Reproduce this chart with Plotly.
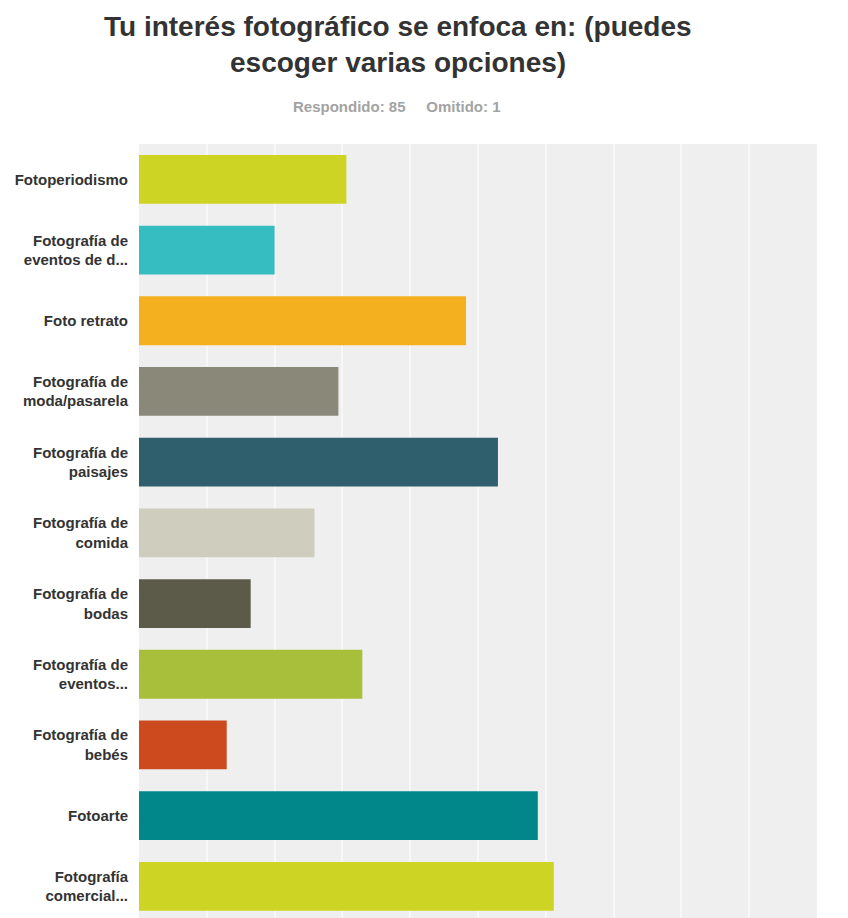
import plotly.graph_objects as go

categories = [
    "Fotoperiodismo",
    "Fotografía de<br>eventos de d...",
    "Foto retrato",
    "Fotografía de<br>moda/pasarela",
    "Fotografía de<br>paisajes",
    "Fotografía de<br>comida",
    "Fotografía de<br>bodas",
    "Fotografía de<br>eventos...",
    "Fotografía de<br>bebés",
    "Fotoarte",
    "Fotografía<br>comercial...",
]
percentages = [30.59, 20.00, 48.24, 29.41, 52.94, 25.88, 16.47, 32.94, 12.94, 58.82, 61.18]
bar_colors = [
    "#cdd423", "#36bdc2", "#f5b020", "#8a8878", "#2f5e6d", "#cfcdbd",
    "#5c5b49", "#a8bf3b", "#cc4a1d", "#01878a", "#cdd423",
]
title_lines = ["Tu interés fotográfico se enfoca en: (puedes", "escoger varias opciones)"]
subtitle_text = "Respondido: 85\u00a0\u00a0\u00a0\u00a0\u00a0Omitido: 1"

W, H = 848, 918
ML, MR, MT, MB = 139, 31, 144, 0
plot_h = H - MT - MB
plot_w = W - ML - MR

fig = go.Figure(
    go.Bar(
        x=percentages,
        y=categories,
        orientation="h",
        marker=dict(color=bar_colors, line=dict(width=0)),
        width=0.69,
        hoverinfo="x+y",
    )
)

band = 70.7
n_bands = plot_h / band

def py(px_from_top):
    return (H - MB - px_from_top) / plot_h

def px_x(px):
    return (px - ML) / plot_w

annotations = []
# title lines, baselines ~37 and ~72 px
for line, ymid in zip(title_lines, [27, 62]):
    annotations.append(dict(
        text=line, xref="paper", yref="paper", x=px_x(398), y=py(ymid),
        xanchor="center", yanchor="middle", showarrow=False,
        font=dict(size=28, color="#333333", family="Liberation Sans, Arial, sans-serif", weight="bold"),
    ))
annotations.append(dict(
    text=subtitle_text, xref="paper", yref="paper", x=px_x(397), y=py(106),
    xanchor="center", yanchor="middle", showarrow=False,
    font=dict(size=15, color="#a3a3a3", family="Liberation Sans, Arial, sans-serif", weight="bold"),
))

fig.update_layout(
    width=W,
    height=H,
    margin=dict(l=ML, r=MR, t=MT, b=MB, pad=0),
    paper_bgcolor="white",
    plot_bgcolor="#efefef",
    showlegend=False,
    font=dict(family="Liberation Sans, Arial, sans-serif"),
    xaxis=dict(
        range=[0, 100],
        dtick=10,
        showgrid=True,
        gridcolor="#f7f7f7",
        gridwidth=2,
        zeroline=False,
        showticklabels=False,
        ticks="",
        showline=False,
        fixedrange=True,
    ),
    yaxis=dict(
        categoryorder="array",
        categoryarray=categories,
        range=[-0.5 + n_bands, -0.5],
        showgrid=False,
        zeroline=False,
        ticks="",
        ticklabelstandoff=10,
        tickfont=dict(size=15, color="#333333", family="Liberation Sans, Arial, sans-serif", weight="bold"),
        showline=False,
        fixedrange=True,
    ),
    annotations=annotations,
)

fig.write_html("out.html")
